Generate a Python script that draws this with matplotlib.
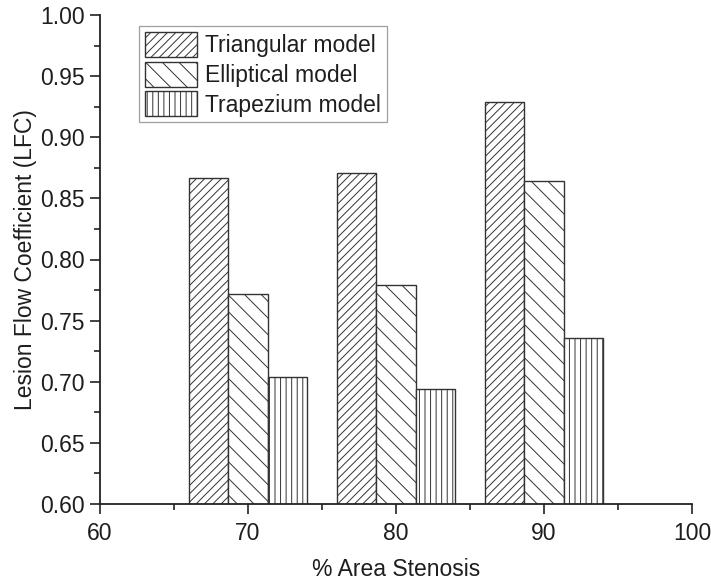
import matplotlib
matplotlib.use("Agg")
import matplotlib.pyplot as plt
import numpy as np
from matplotlib.ticker import MultipleLocator, FormatStrFormatter

# Lesion flow coefficient for each stenosis level and model shape
stenosis = [70, 80, 90]
models = ["Triangular model", "Elliptical model", "Trapezium model"]
lfc_triangular = [0.867, 0.871, 0.929]
lfc_elliptical = [0.772, 0.779, 0.864]
lfc_trapezium = [0.704, 0.694, 0.736]

plt.rcParams["font.family"] = ["Liberation Sans", "DejaVu Sans"]
plt.rcParams["hatch.linewidth"] = 0.7
plt.rcParams["hatch.color"] = "#555555"

text_color = "#1e1e1e"
fs = 16.5

fig = plt.figure(figsize=(7.11, 5.85), dpi=100)
ax = fig.add_axes([100 / 711, 1 - 504 / 585, 592 / 711, 489 / 585])

group_width = 8.0
bar_w = group_width / 3
x = np.array(stenosis, dtype=float)
series = [lfc_triangular, lfc_elliptical, lfc_trapezium]
hatches = ["////", "\\\\", "|||"]

for i, (vals, hatch, name) in enumerate(zip(series, hatches, models)):
    offset = (i - 1) * bar_w
    ax.bar(x + offset, vals, width=bar_w, bottom=0,
           color="white", edgecolor="#333333", linewidth=1.0,
           hatch=hatch, label=name)

ax.set_xlim(60, 100)
ax.set_ylim(0.60, 1.00)

ax.xaxis.set_major_locator(MultipleLocator(10))
ax.xaxis.set_minor_locator(MultipleLocator(5))
ax.yaxis.set_major_locator(MultipleLocator(0.05))
ax.yaxis.set_minor_locator(MultipleLocator(0.025))
ax.yaxis.set_major_formatter(FormatStrFormatter("%.2f"))

for side in ("top", "right"):
    ax.spines[side].set_visible(False)
for side in ("left", "bottom"):
    ax.spines[side].set_linewidth(1.3)
    ax.spines[side].set_color("#222222")

ax.tick_params(which="major", direction="out", length=7, width=1.2,
               colors="#222222", labelsize=fs, labelcolor=text_color, pad=4)
ax.tick_params(axis="x", which="major", pad=6)
ax.tick_params(which="minor", direction="out", length=4, width=1.2,
               colors="#222222")

ax.set_xlabel("% Area Stenosis", fontsize=fs, color=text_color, labelpad=9)
ax.set_ylabel("Lesion Flow Coefficient (LFC)", fontsize=fs, color=text_color,
              labelpad=2)

leg = ax.legend(loc="upper left", bbox_to_anchor=(0.066, 0.977),
                borderaxespad=0, fontsize=fs, frameon=True, fancybox=False,
                handlelength=2.27, handleheight=1.3, labelspacing=0.2,
                handletextpad=0.36, borderpad=0.25)
leg.get_frame().set_edgecolor("#888888")
leg.get_frame().set_linewidth(0.9)
for t in leg.get_texts():
    t.set_color(text_color)

fig.savefig("out.png", dpi=100, facecolor="white")
